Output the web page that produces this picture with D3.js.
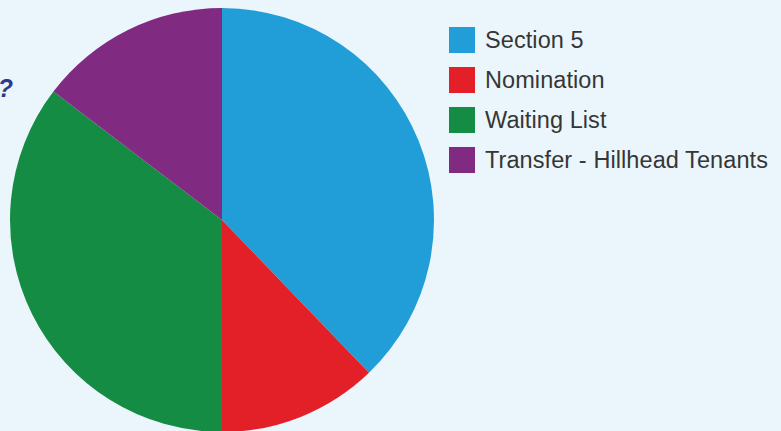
<!DOCTYPE html>
<html lang="en">
<head>
  <meta charset="UTF-8">
  <title>Allocations by source</title>
  <script src="https://d3js.org/d3.v7.min.js"></script>
  <style>
    body {
      margin: 0;
      background-color: #eaf6fc;
      overflow: hidden;
    }
    svg {
      display: block;
    }
    .legend text {
      font-family: "Liberation Sans", Arial, sans-serif;
      font-size: 23.5px;
      letter-spacing: 0.08px;
      fill: #363636;
    }
  </style>
</head>
<body>
  <svg id="chart" width="781" height="431"></svg>

  <script>
    // Allocations by source
    const categories = ["Section 5", "Nomination", "Waiting List", "Transfer - Hillhead Tenants"];
    const values = [31, 10, 29, 12];
    const colors = ["#219dd8", "#e32028", "#148c44", "#812a82"];

    const svg = d3.select("#chart");
    const cx = 222, cy = 220, radius = 212;

    // cropped heading ends with a question mark at the left edge
    svg.append("text")
      .attr("x", 13)
      .attr("y", 97)
      .attr("text-anchor", "end")
      .attr("font-family", "Liberation Sans, Arial, sans-serif")
      .attr("font-size", 25)
      .attr("font-weight", "bold")
      .attr("font-style", "italic")
      .attr("fill", "#2b3a8f")
      .text("?");

    const pie = d3.pie().sort(null).value(d => d.value);
    const arc = d3.arc().innerRadius(0).outerRadius(radius);
    const data = categories.map((c, i) => ({ name: c, value: values[i], color: colors[i] }));

    svg.append("g")
      .attr("transform", `translate(${cx},${cy})`)
      .selectAll("path")
      .data(pie(data))
      .join("path")
        .attr("d", arc)
        .attr("fill", d => d.data.color);

    // legend
    const legend = svg.append("g")
      .attr("class", "legend")
      .attr("transform", "translate(449,27)");

    const item = legend.selectAll("g")
      .data(data)
      .join("g")
        .attr("transform", (d, i) => `translate(0,${i * 40})`);

    item.append("rect")
      .attr("width", 26)
      .attr("height", 26)
      .attr("fill", d => d.color);

    item.append("text")
      .attr("x", 36)
      .attr("y", 21)
      .text(d => d.name);
  </script>
</body>
</html>
